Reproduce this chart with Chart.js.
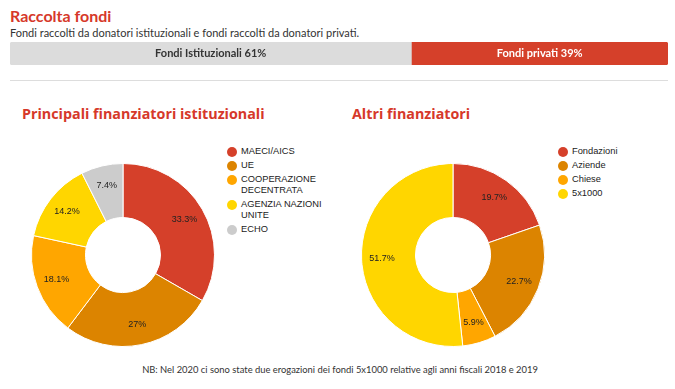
<!DOCTYPE html>
<html>
<head>
<meta charset="utf-8">
<script src="https://cdn.jsdelivr.net/npm/chart.js@4.4.1/dist/chart.umd.min.js"></script>
<style>
  body { margin: 0; width: 675px; height: 389px; position: relative; overflow: hidden; background: #fff; font-family: Lato, sans-serif; }
  .abs { position: absolute; }
  #title { left: 10px; top: 6px; font-size: 16px; font-weight: 700; color: #d6382a; }
  #subtitle { left: 10px; top: 26px; font-size: 11px; color: #333; }
  #divider { left: 10px; top: 80px; width: 658px; height: 0; border-top: 1px solid #ddd; }
  .section { top: 104px; font-family: "Open Sans", sans-serif; font-size: 14.3px; font-weight: 700; color: #d6382a; }
  .legend { font-family: "Liberation Sans", Arial, sans-serif; font-size: 9.3px; color: #222; list-style: none; margin: 0; padding: 0; }
  .legend li { position: relative; padding-left: 14px; line-height: 11px; margin-bottom: 3px; width: 86px; }
  .legend li span { position: absolute; left: 0; top: 0.5px; width: 10px; height: 10px; border-radius: 50%; }
  #note { left: 0; width: 680px; top: 364px; text-align: center; font-size: 9.4px; color: #333; }
</style>
</head>
<body>
<div id="title" class="abs">Raccolta fondi</div>
<div id="subtitle" class="abs">Fondi raccolti da donatori istituzionali e fondi raccolti da donatori privati.</div>
<canvas id="splitChart" class="abs" width="658" height="23" style="left:10px;top:42px"></canvas>
<div id="divider" class="abs"></div>

<div class="abs section" style="left:22px">Principali finanziatori istituzionali</div>
<div class="abs section" style="left:352px">Altri finanziatori</div>

<canvas id="instChart" class="abs" width="184" height="184" style="left:31px;top:163px"></canvas>
<ul id="instLegend" class="abs legend" style="left:227px;top:146px"></ul>

<canvas id="otherChart" class="abs" width="184" height="184" style="left:361px;top:163px"></canvas>
<ul id="otherLegend" class="abs legend" style="left:558px;top:146px"></ul>

<div id="note" class="abs">NB: Nel 2020 ci sono state due erogazioni dei fondi 5x1000 relative agli anni fiscali 2018 e 2019</div>

<script>
// data
const splitLabels = ["Fondi Istituzionali", "Fondi privati"];
const splitValues = [61, 39];
const splitColors = ["#dcdcdc", "#d5402a"];
const splitText = ["#333", "#fff"];

const instLabels = ["MAECI/AICS", "UE", "COOPERAZIONE DECENTRATA", "AGENZIA NAZIONI UNITE", "ECHO"];
const instValues = [33.3, 27, 18.1, 14.2, 7.4];
const instColors = ["#d5402a", "#dc8400", "#ffa600", "#ffd600", "#cccccc"];

const otherLabels = ["Fondazioni", "Aziende", "Chiese", "5x1000"];
const otherValues = [19.7, 22.7, 5.9, 51.7];
const otherColors = ["#d5402a", "#dc8400", "#ffa600", "#ffd600"];

// percent labels inside the slices
const sliceLabels = {
  id: "sliceLabels",
  afterDatasetsDraw(chart) {
    const ctx = chart.ctx;
    const values = chart.data.datasets[0].data;
    ctx.save();
    ctx.font = '9px "Liberation Sans", Arial, sans-serif';
    ctx.fillStyle = "#222";
    ctx.textAlign = "center";
    ctx.textBaseline = "middle";
    chart.getDatasetMeta(0).data.forEach((arc, i) => {
      const p = arc.getProps(["x", "y", "startAngle", "endAngle", "innerRadius", "outerRadius"]);
      const a = (p.startAngle + p.endAngle) / 2;
      const r = p.innerRadius + (p.outerRadius - p.innerRadius) * 0.62;
      ctx.fillText(values[i] + "%", p.x + Math.cos(a) * r, p.y + Math.sin(a) * r);
    });
    ctx.restore();
  }
};

function makeDonut(id, legendId, labels, values, colors) {
  new Chart(document.getElementById(id), {
    type: "doughnut",
    data: {
      labels: labels,
      datasets: [{ data: values, backgroundColor: colors, borderColor: "#fff", borderWidth: 1 }]
    },
    options: {
      responsive: false,
      animation: false,
      cutout: "41%",
      plugins: { legend: { display: false }, tooltip: { enabled: false } }
    },
    plugins: [sliceLabels]
  });

  const legend = document.getElementById(legendId);
  labels.forEach((label, i) => {
    legend.innerHTML += `<li><span style="background:${colors[i]}"></span>${label}</li>`;
  });
}

makeDonut("instChart", "instLegend", instLabels, instValues, instColors);
makeDonut("otherChart", "otherLegend", otherLabels, otherValues, otherColors);

// top split bar
const barText = {
  id: "barText",
  afterDatasetsDraw(chart) {
    const ctx = chart.ctx;
    ctx.save();
    ctx.font = '700 11px Lato, sans-serif';
    ctx.textAlign = "center";
    ctx.textBaseline = "middle";
    chart.data.datasets.forEach((ds, i) => {
      const bar = chart.getDatasetMeta(i).data[0];
      const p = bar.getProps(["x", "y", "base"]);
      ctx.fillStyle = splitText[i];
      ctx.fillText(ds.label + " " + ds.data[0] + "%", (p.x + p.base) / 2, p.y);
    });
    ctx.restore();
  }
};

new Chart(document.getElementById("splitChart"), {
  type: "bar",
  data: {
    labels: [""],
    datasets: splitLabels.map((label, i) => ({
      label: label,
      data: [splitValues[i]],
      backgroundColor: splitColors[i],
      borderSkipped: false,
      borderRadius: i === 0 ? { topLeft: 3, bottomLeft: 3 } : { topRight: 3, bottomRight: 3 },
      barPercentage: 1,
      categoryPercentage: 1
    }))
  },
  options: {
    indexAxis: "y",
    responsive: false,
    animation: false,
    layout: { padding: 0 },
    scales: {
      x: { stacked: true, min: 0, max: 100, display: false },
      y: { stacked: true, display: false }
    },
    plugins: { legend: { display: false }, tooltip: { enabled: false } }
  },
  plugins: [barText]
});
</script>
</body>
</html>
